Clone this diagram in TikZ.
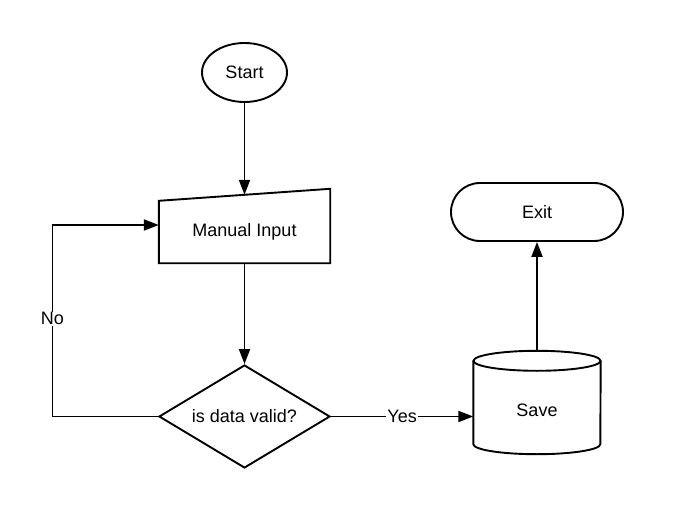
\documentclass[tikz,border=0pt]{standalone}
\usepackage{fontspec}
\setmainfont{Liberation Sans}
\usetikzlibrary{arrows.meta,shapes.geometric,calc}
\begin{document}
\begin{tikzpicture}[x=1pt,y=-1pt,
  every node/.style={font=\fontsize{18}{21}\selectfont},
  line/.style={line width=1.9pt},
  arr/.style={line, -{Triangle[length=15pt,width=11pt]}},
  lbl/.style={fill=white, inner sep=1pt}]
\useasboundingbox (0,0) rectangle (673,511);
% Start
\node[ellipse, draw, line, minimum width=85pt, minimum height=59pt, inner sep=0] (start) at (244.5,72.5) {Start};
% Manual input
\node[minimum width=171pt, minimum height=62pt, inner sep=0] (mi) at (244.5,232) {Manual Input};
\draw[line] (mi.south west) -- (mi.south east) -- ($(mi.north east)+(0,-12)$) -- (mi.north west) -- cycle;
\coordinate (mitop) at ($(mi.north)+(0,-6)$);
\coordinate (miin) at ($(mi.west)+(0,-7)$);
% Decision
\node[diamond, draw, line, minimum width=171pt, minimum height=103pt, inner sep=0, aspect=1.66] (dec) at (244.5,416.5) {is data valid?};
% Save (cylinder)
\node[minimum width=127pt, minimum height=88pt, inner sep=0] (save) at (537,410) {Save};
\draw[line] ($(save.north)+(0,-5)$) ellipse [x radius=63.5pt, y radius=10pt];
\draw[line] ($(save.north west)+(0,-5)$) -- ($(save.south west)+(0,-10)$)
  arc[start angle=180, end angle=360, x radius=63.5pt, y radius=10pt]
  -- ($(save.north east)+(0,-5)$);
\coordinate (savetop) at ($(save.north)+(0,-15)$);
% Exit
\node[draw, line, rounded corners=29pt, minimum width=172pt, minimum height=58pt, inner sep=0] (exit) at (537,212) {Exit};
% Connectors
\coordinate (nocorner) at (52.5,416.5);
\draw[arr] (start.south) -- (mitop);
\draw[arr] (mi.south) -- (dec.north);
\draw[arr] (dec.west) -- (nocorner) |- node[lbl, pos=0.255] {No} (miin);
\draw[arr] (dec.east) -- node[lbl, pos=0.5] {Yes} (dec.east -| save.west);
\draw[arr] (savetop) -- (exit.south);
\end{tikzpicture}
\end{document}
